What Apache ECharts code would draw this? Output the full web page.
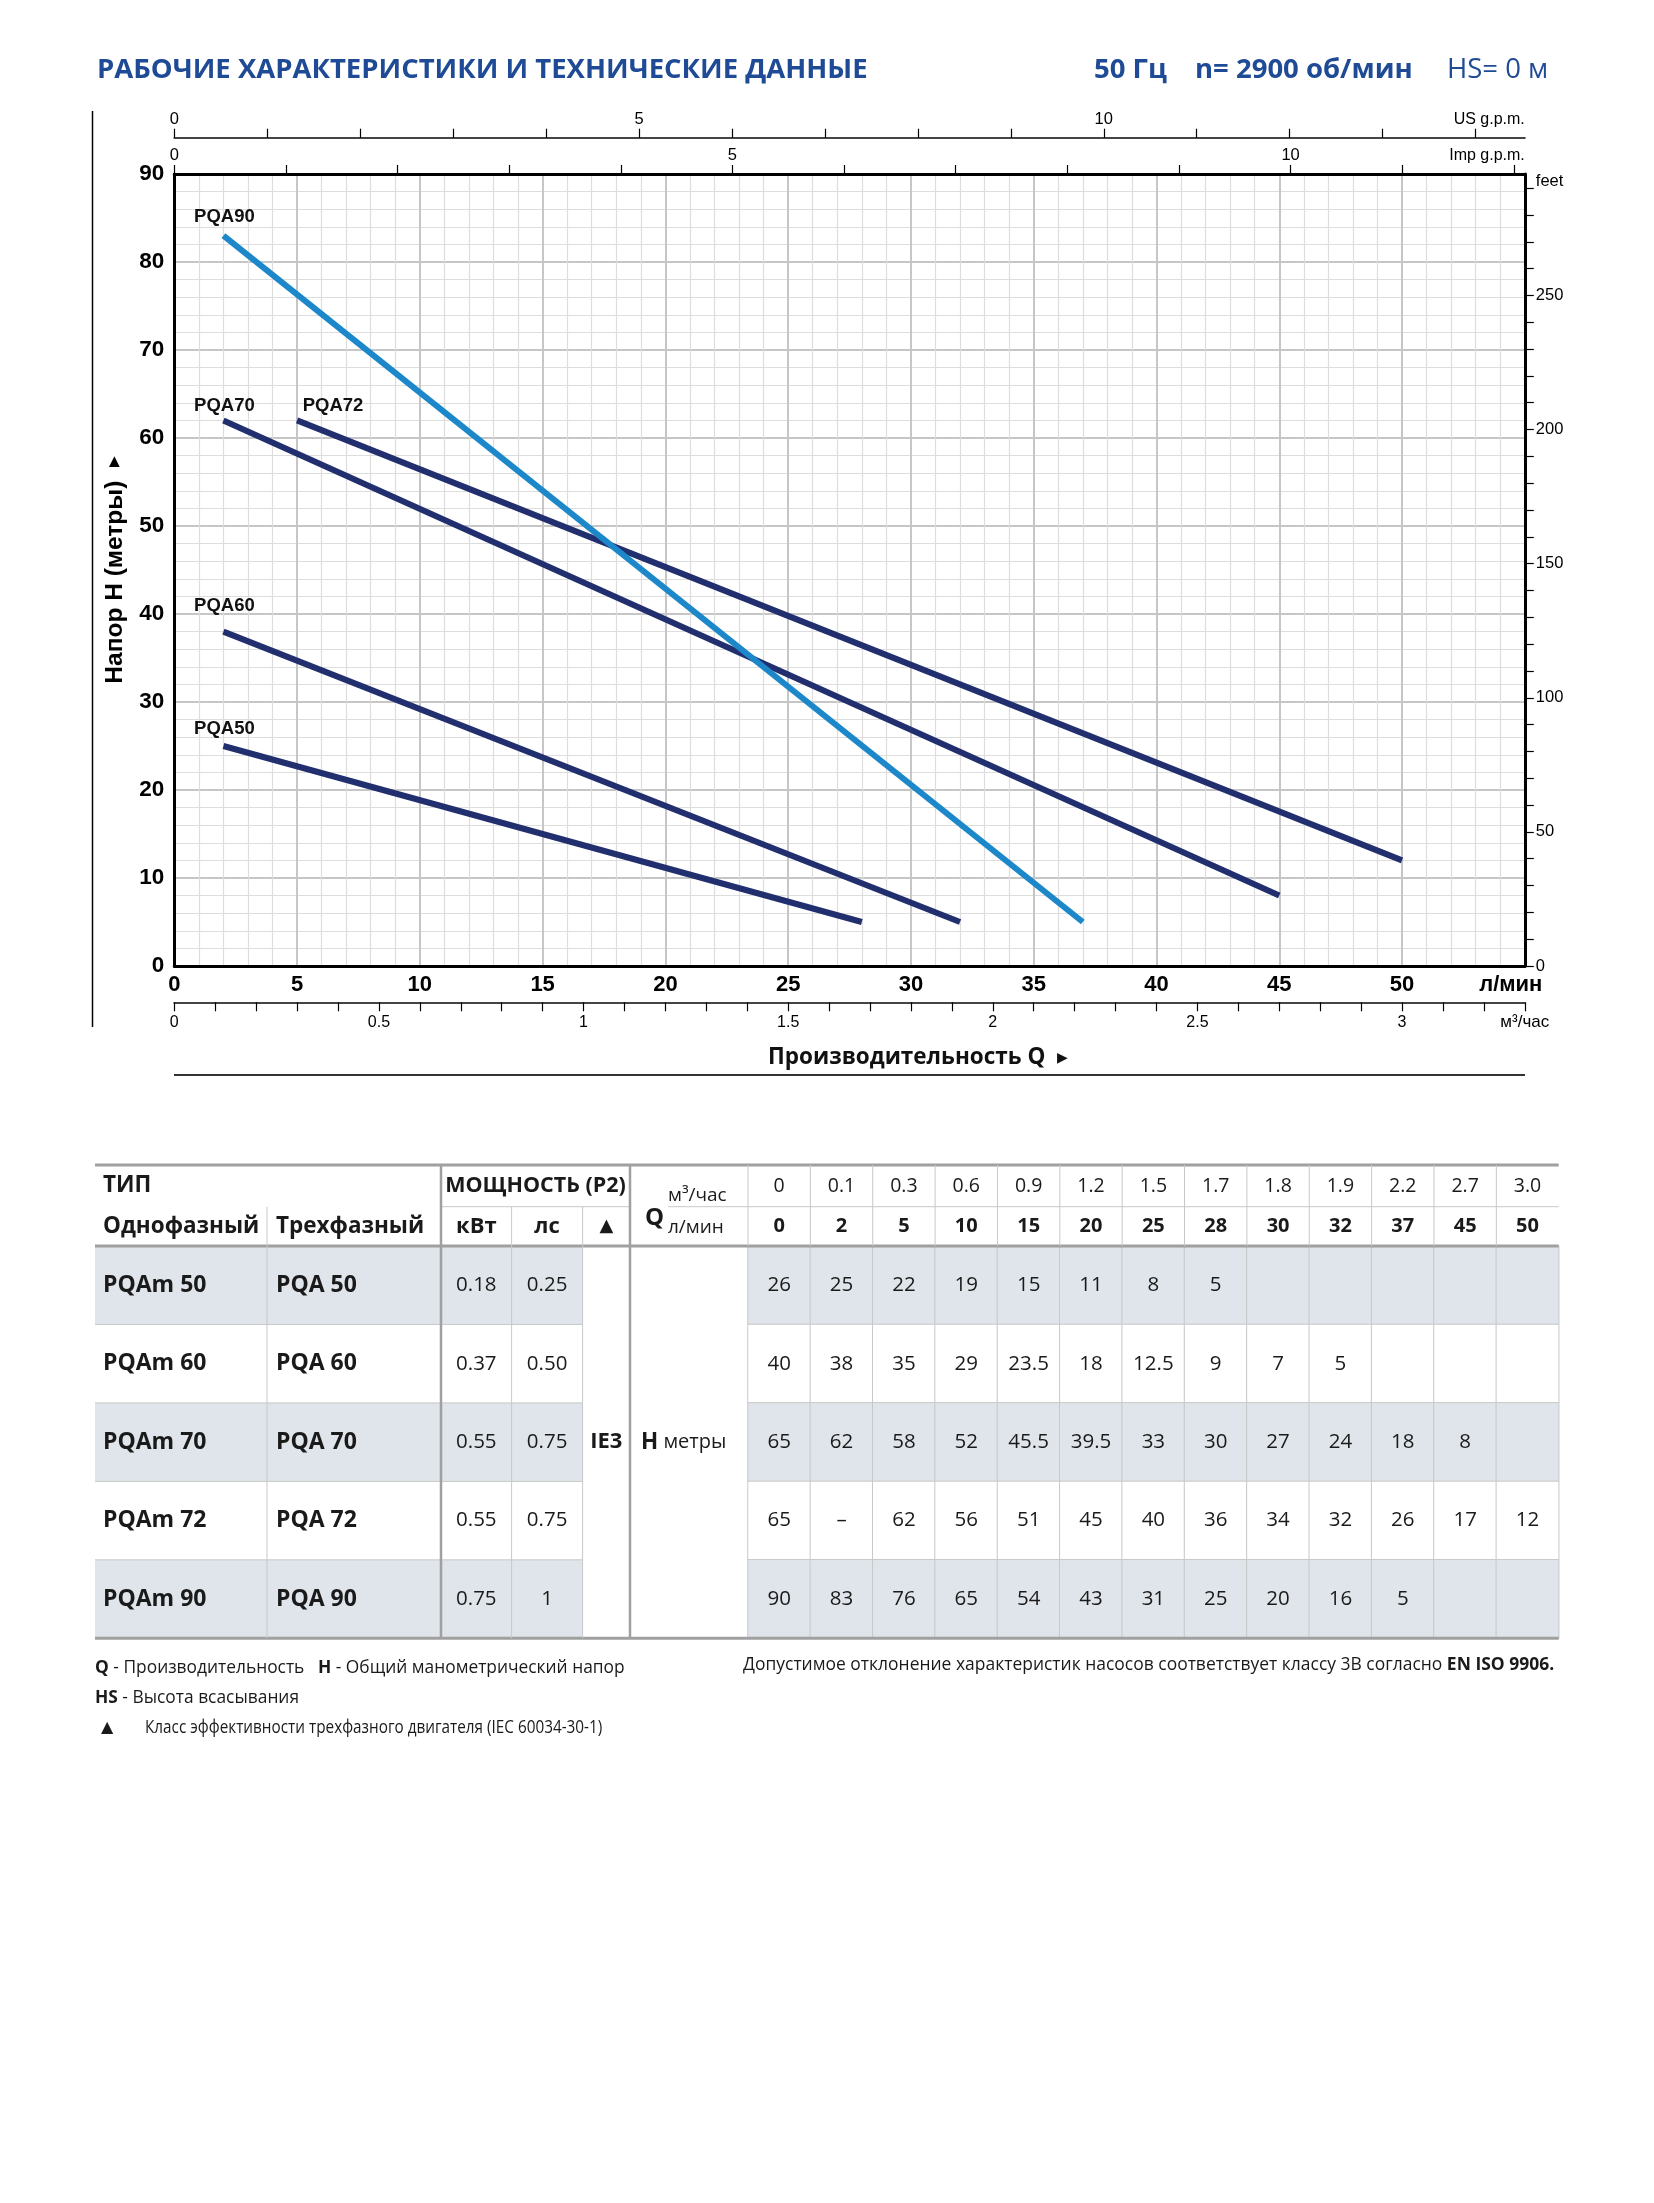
<!DOCTYPE html>
<html><head><meta charset="utf-8">
<script src="https://cdn.jsdelivr.net/npm/echarts@6.0.0/dist/echarts.min.js"></script>
<style>html,body{margin:0;padding:0;background:#fff}#c{width:1654px;height:2203px}</style>
</head><body><div id="c"></div><script>
// ---------------- DATA ----------------
const qLmin = [0, 2, 5, 10, 15, 20, 25, 28, 30, 32, 37, 45, 50];
const qM3h = ['0', '0.1', '0.3', '0.6', '0.9', '1.2', '1.5', '1.7', '1.8', '1.9', '2.2', '2.7', '3.0'];
const curveNames = ['PQA50', 'PQA60', 'PQA70', 'PQA72', 'PQA90'];
const modelsSingle = ['PQAm 50', 'PQAm 60', 'PQAm 70', 'PQAm 72', 'PQAm 90'];
const modelsThree = ['PQA 50', 'PQA 60', 'PQA 70', 'PQA 72', 'PQA 90'];
const powerKw = ['0.18', '0.37', '0.55', '0.55', '0.75'];
const powerHp = ['0.25', '0.50', '0.75', '0.75', '1'];
const hPQA50 = [26, 25, 22, 19, 15, 11, 8, 5, null, null, null, null, null];
const hPQA60 = [40, 38, 35, 29, 23.5, 18, 12.5, 9, 7, 5, null, null, null];
const hPQA70 = [65, 62, 58, 52, 45.5, 39.5, 33, 30, 27, 24, 18, 8, null];
const hPQA72 = [65, '–', 62, 56, 51, 45, 40, 36, 34, 32, 26, 17, 12];
const hPQA90 = [90, 83, 76, 65, 54, 43, 31, 25, 20, 16, 5, null, null];
const lminTickLabels = [0, 5, 10, 15, 20, 25, 30, 35, 40, 45, 50];
const headTickLabels = [0, 10, 20, 30, 40, 50, 60, 70, 80, 90];
const m3hTickLabels = [0, 0.5, 1, 1.5, 2, 2.5, 3];
const usGpmTickLabels = [0, 5, 10];
const impGpmTickLabels = [0, 5, 10];
const feetTickLabels = [0, 50, 100, 150, 200, 250];

// unit conversions / axis extents
const Q_MAX = 55, H_MAX = 90;
const L_PER_USGAL = 3.785411784, L_PER_IMPGAL = 4.54609, M_PER_FT = 0.3048;
const range = (a, b, s) => { const r = []; for (let i = a; i <= b; i++) r.push(i * s); return r; };

// ---------------- STYLE / LAYOUT ----------------
const NAVY = '#222f6e', SKY = '#1c87c9', TITLE = '#1f4a96';
const curveColor = { PQA50: NAVY, PQA60: NAVY, PQA70: NAVY, PQA72: NAVY, PQA90: SKY };
const curveLabelOffset = { PQA50: [1, -8], PQA60: [1, -16], PQA70: [1, -5], PQA72: [36, -5], PQA90: [1, -9] };
const CF = 'Liberation Sans', TF = 'Open Sans';
const GRID = { left: 174.3, top: 174, width: 1350.5, height: 792 };
const TBL = { left: 95, top: 1165, mid: 1206.7, hdr: 1246, rowH: 78.46, right: 1558.7,
  cols: [95, 267, 441, 511.6, 582.6, 630, 748] };
const SHADE = '#dfe5ea', LINEC = '#c8c8c8', THICKC = '#a0a0a0';

const tableH = [hPQA50, hPQA60, hPQA70, hPQA72, hPQA90];

// ---------------- SERIES ----------------
// chart curves are straight in the picture: drawn between the first plotted (Q >= 2) and last table point
const lineSeries = curveNames.map((name, k) => {
  const h = tableH[k];
  const pts = [];
  for (let i = 1; i < qLmin.length; i++) if (typeof h[i] === 'number') pts.push([qLmin[i], h[i]]);
  const ends = [pts[0], pts[pts.length - 1]];
  const data = ends.map((p, j) => j === 0 ? { value: p, label: { show: true } } : { value: p });
  return {
    type: 'line', name, xAxisIndex: 0, yAxisIndex: 0, data,
    symbol: 'circle', symbolSize: 0.01, showSymbol: true,
    lineStyle: { color: curveColor[name], width: 6, cap: 'butt' },
    itemStyle: { color: curveColor[name] },
    label: { show: false, position: 'top', distance: 0, offset: curveLabelOffset[name],
      formatter: name, fontFamily: CF, fontWeight: 'bold', fontSize: 18.5, color: '#111' },
    emphasis: { disabled: true }, z: name === 'PQA90' ? 4 : 3, silent: true
  };
});

const heatData = [];
tableH.forEach((h, r) => {
  h.forEach((v, c) => {
    heatData.push({ value: [c, r, 1], t: v === null ? '' : String(v),
      itemStyle: { color: r % 2 === 0 ? SHADE : '#ffffff' } });
  });
});

// ---------------- GRAPHICS (texts / table frame) ----------------
function T(x, y, text, o) {
  o = o || {};
  return { type: 'text', x, y, scaleX: o.sx || 1, rotation: o.rot || 0, silent: true, z: 20,
    style: { text, fontFamily: o.ff || TF, fontSize: o.fs || 19, fontWeight: o.fw || 'normal',
      fill: o.c || '#1a1a1a', align: o.al || 'left', verticalAlign: 'middle', rich: o.rich } };
}
function Ln(x1, y1, x2, y2, c, w) {
  return { type: 'line', silent: true, z: 15, shape: { x1, y1, x2, y2 }, style: { stroke: c, lineWidth: w } };
}
function R(x, y, w, h, c) {
  return { type: 'rect', silent: true, z: 1, shape: { x, y, width: w, height: h }, style: { fill: c } };
}

const g = [];
// header
g.push(T(97, 70, 'РАБОЧИЕ ХАРАКТЕРИСТИКИ И ТЕХНИЧЕСКИЕ ДАННЫЕ', { fs: 27.5, fw: 'bold', c: TITLE }));
g.push(T(1094, 70, '50 Гц', { fs: 27.5, fw: 'bold', c: TITLE }));
g.push(T(1195, 70, 'n= 2900 об/мин', { fs: 27.5, fw: 'bold', c: TITLE }));
g.push(T(1447, 70, 'HS= 0 м', { fs: 27.5, c: TITLE }));
// frame decorations of the chart block
g.push(Ln(92.5, 111, 92.5, 1027, '#000', 1.5));
g.push(T(768, 1058, 'Производительность Q  {t|▶}', { fs: 22.5, fw: 'bold', c: '#111',
  rich: { t: { fontSize: 14, fontFamily: 'DejaVu Sans' } } }));
g.push(Ln(174, 1075, 1525, 1075, '#333', 2));

// table
const C = TBL.cols, bottom = TBL.hdr + 5 * TBL.rowH;
for (let r = 0; r < 5; r += 2) g.push(R(C[0], TBL.hdr + r * TBL.rowH, C[4] - C[0], TBL.rowH, SHADE));
g.push(Ln(C[0], TBL.top, TBL.right, TBL.top, THICKC, 3));
g.push(Ln(C[0], TBL.hdr, TBL.right, TBL.hdr, THICKC, 3));
g.push(Ln(C[0], bottom, TBL.right, bottom, THICKC, 3));
g.push(Ln(C[2], TBL.mid, C[5], TBL.mid, LINEC, 1));
g.push(Ln(668, TBL.mid, TBL.right, TBL.mid, LINEC, 1));
for (let r = 1; r < 5; r++) g.push(Ln(C[0], TBL.hdr + r * TBL.rowH, C[4], TBL.hdr + r * TBL.rowH, LINEC, 1));
g.push(Ln(C[1], TBL.mid, C[1], bottom, LINEC, 1));
g.push(Ln(C[3], TBL.mid, C[3], bottom, LINEC, 1));
g.push(Ln(C[4], TBL.mid, C[4], bottom, LINEC, 1));
g.push(Ln(C[2], TBL.top, C[2], bottom, THICKC, 2.5));
g.push(Ln(C[5], TBL.top, C[5], bottom, THICKC, 2.5));
const dW = (TBL.right - C[6]) / qLmin.length;
for (let k = 0; k < qLmin.length; k++) g.push(Ln(C[6] + k * dW, TBL.top, C[6] + k * dW, TBL.hdr, LINEC, 1));

const yR1 = (TBL.top + TBL.mid) / 2, yR2 = (TBL.mid + TBL.hdr) / 2;
g.push(T(103, yR1, 'ТИП', { fs: 22.5, fw: 'bold' }));
g.push(T(103, yR2, 'Однофазный', { fs: 22.5, fw: 'bold' }));
g.push(T(276, yR2, 'Трехфазный', { fs: 22.5, fw: 'bold' }));
g.push(T((C[2] + C[5]) / 2, yR1, 'МОЩНОСТЬ (P2)', { fs: 21.5, fw: 'bold', al: 'center' }));
g.push(T((C[2] + C[3]) / 2, yR2, 'кВт', { fs: 22, fw: 'bold', al: 'center' }));
g.push(T((C[3] + C[4]) / 2, yR2, 'лс', { fs: 22, fw: 'bold', al: 'center' }));
g.push(T((C[4] + C[5]) / 2, yR2, '▲', { fs: 18, al: 'center', ff: 'DejaVu Sans' }));
g.push(T(645, 1218, 'Q', { fs: 24, fw: 'bold' }));
g.push(T(668, 1196, 'м³/час', { fs: 19 }));
g.push(T(668, 1228, 'л/мин', { fs: 19 }));
for (let r = 0; r < 5; r++) {
  const y = TBL.hdr + (r + 0.5) * TBL.rowH;
  g.push(T(103, y, modelsSingle[r], { fs: 23, fw: 'bold' }));
  g.push(T(276, y, modelsThree[r], { fs: 23, fw: 'bold' }));
  g.push(T((C[2] + C[3]) / 2, y, powerKw[r], { fs: 20.5, al: 'center' }));
  g.push(T((C[3] + C[4]) / 2, y, powerHp[r], { fs: 20.5, al: 'center' }));
}
const yMidBody = TBL.hdr + 2.5 * TBL.rowH;
g.push(T((C[4] + C[5]) / 2, yMidBody, 'IE3', { fs: 22, fw: 'bold', al: 'center' }));
g.push(T(641, yMidBody, '{b|H} метры', { fs: 20, rich: { b: { fontWeight: 'bold', fontSize: 22.5, fontFamily: TF } } }));

// footnotes
const rb = { b: { fontWeight: 'bold', fontFamily: TF, fontSize: 18 } };
g.push(T(95, 1668, '{b|Q} - Производительность   {b|H} - Общий манометрический напор', { fs: 18, rich: rb, sx: 0.965 }));
g.push(T(95, 1698, '{b|HS} - Высота всасывания', { fs: 18, rich: rb, sx: 0.965 }));
g.push(T(101, 1728, '▲', { fs: 16, ff: 'DejaVu Sans' }));
g.push(T(145, 1728, 'Класс эффективности трехфазного двигателя (IEC 60034-30-1)', { fs: 18, sx: 0.85 }));
g.push(T(743, 1665, 'Допустимое отклонение характеристик насосов соответствует классу 3B согласно {b|EN ISO 9906.}', { fs: 18, rich: rb, sx: 0.97 }));

// ---------------- OPTION ----------------
const baseLabel = { fontFamily: CF, color: '#000' };
const m3hMax = Q_MAX * 60 / 1000;
const option = {
  animation: false,
  backgroundColor: '#fff',
  grid: [
    Object.assign({ show: false }, GRID),
    { left: C[6], top: TBL.hdr, width: TBL.right - C[6], height: 5 * TBL.rowH }
  ],
  xAxis: [
    { gridIndex: 0, type: 'value', min: 0, max: Q_MAX, interval: 5, position: 'bottom',
      axisLine: { show: true, onZero: false, lineStyle: { color: '#000', width: 3 } },
      axisTick: { show: false },
      axisLabel: Object.assign({}, baseLabel, { fontSize: 22, fontWeight: 'bold', margin: 8,
        showMinLabel: true, showMaxLabel: true,
        formatter: v => v === Q_MAX ? '{u|л/мин}' : (lminTickLabels.indexOf(v) >= 0 ? String(v) : ''),
        rich: { u: { fontFamily: CF, fontSize: 22, fontWeight: 'bold', padding: [0, 28, 0, 0] } } }),
      splitLine: { show: true, showMinLine: false, showMaxLine: false, lineStyle: { color: '#c6c6c6', width: 2 } },
      minorTick: { show: false, splitNumber: 5 },
      minorSplitLine: { show: true, lineStyle: { color: '#dddddd', width: 1.2 } } },
    { gridIndex: 0, type: 'value', min: 0, max: Q_MAX / L_PER_IMPGAL, position: 'top',
      axisLine: { show: true, onZero: false, lineStyle: { color: '#000', width: 3 } },
      axisTick: { show: true, inside: false, length: 9, customValues: range(0, 12, 1), lineStyle: { color: '#000', width: 1.2 } },
      axisLabel: Object.assign({}, baseLabel, { fontSize: 16.5, margin: 10, customValues: impGpmTickLabels }),
      splitLine: { show: false },
      name: 'Imp g.p.m.', nameLocation: 'end', nameGap: 0,
      nameTextStyle: { fontFamily: CF, fontSize: 16, color: '#000', align: 'right', verticalAlign: 'bottom', padding: [0, 0, 10, 0] } },
    { gridIndex: 0, type: 'value', min: 0, max: Q_MAX / L_PER_USGAL, position: 'top', offset: 36.3,
      axisLine: { show: true, onZero: false, lineStyle: { color: '#444', width: 2 } },
      axisTick: { show: true, inside: false, length: 9, customValues: range(0, 14, 1), lineStyle: { color: '#000', width: 1.2 } },
      axisLabel: Object.assign({}, baseLabel, { fontSize: 16.5, margin: 10, customValues: usGpmTickLabels }),
      splitLine: { show: false },
      name: 'US g.p.m.', nameLocation: 'end', nameGap: 0,
      nameTextStyle: { fontFamily: CF, fontSize: 16, color: '#000', align: 'right', verticalAlign: 'bottom', padding: [0, 0, 10, 0] } },
    { gridIndex: 0, type: 'value', min: 0, max: m3hMax, position: 'bottom', offset: 36.3,
      axisLine: { show: true, onZero: false, lineStyle: { color: '#444', width: 2 } },
      axisTick: { show: true, inside: false, length: 9, customValues: range(0, 33, 1).map(v => v / 10), lineStyle: { color: '#000', width: 1.2 } },
      axisLabel: Object.assign({}, baseLabel, { fontSize: 16, margin: 12,
        customValues: m3hTickLabels.concat([m3hMax]),
        formatter: v => Math.abs(v - m3hMax) < 1e-9 ? '{u|м³/час}' : String(v),
        rich: { u: { fontFamily: CF, fontSize: 17, color: '#000', padding: [0, 0, 0, 0] } } }),
      splitLine: { show: false } },
    { gridIndex: 1, type: 'category', data: qLmin.map(String), position: 'top',
      axisLine: { show: false }, axisTick: { show: false }, splitLine: { show: false },
      axisLabel: { interval: 0, margin: 0,
        formatter: (v, i) => '{a|' + qM3h[i] + '}\n{b|' + qLmin[i] + '}',
        rich: { a: { fontFamily: TF, fontSize: 19.5, color: '#1a1a1a', lineHeight: 40 },
                b: { fontFamily: TF, fontSize: 20, fontWeight: 'bold', color: '#1a1a1a', lineHeight: 40 } } } }
  ],
  yAxis: [
    { gridIndex: 0, type: 'value', min: 0, max: H_MAX, interval: 10, position: 'left',
      axisLine: { show: true, onZero: false, lineStyle: { color: '#000', width: 3 } },
      axisTick: { show: false },
      axisLabel: Object.assign({}, baseLabel, { fontSize: 22.5, fontWeight: 'bold', margin: 10,
        formatter: v => headTickLabels.indexOf(v) >= 0 ? String(v) : '' }),
      splitLine: { show: true, showMinLine: false, showMaxLine: false, lineStyle: { color: '#c6c6c6', width: 2 } },
      minorTick: { show: false, splitNumber: 5 },
      minorSplitLine: { show: true, lineStyle: { color: '#dddddd', width: 1.2 } },
      name: 'Напор H (метры)  {t|▶}', nameLocation: 'middle', nameRotate: 90, nameGap: 47,
      nameTextStyle: { fontFamily: CF, fontWeight: 'bold', fontSize: 24.5, color: '#000',
        rich: { t: { fontSize: 14, fontFamily: 'DejaVu Sans', color: '#000' } } } },
    { gridIndex: 0, type: 'value', min: 0, max: H_MAX / M_PER_FT, position: 'right',
      axisLine: { show: true, onZero: false, lineStyle: { color: '#000', width: 3 } },
      axisTick: { show: true, inside: false, length: 9, customValues: range(0, 29, 10), lineStyle: { color: '#000', width: 1.2 } },
      axisLabel: Object.assign({}, baseLabel, { fontSize: 16.5, margin: 11,
        customValues: feetTickLabels.concat([290]),
        formatter: v => v === 290 ? '{f|feet}' : String(v),
        rich: { f: { fontFamily: CF, fontSize: 16.5, color: '#000', padding: [0, 0, 14, 0] } } }),
      splitLine: { show: false } },
    { gridIndex: 1, type: 'category', data: curveNames, inverse: true, show: false }
  ],
  series: lineSeries.concat([{
    type: 'heatmap', xAxisIndex: 4, yAxisIndex: 2, data: heatData, silent: true,
    itemStyle: { borderColor: LINEC, borderWidth: 1 },
    label: { show: true, formatter: p => p.data.t, fontFamily: TF, fontSize: 20.5, color: '#1a1a1a' },
    emphasis: { disabled: true }
  }]),
  graphic: { elements: g }
};
const chart = echarts.init(document.getElementById('c'), null, { renderer: 'canvas', width: 1654, height: 2203 });
chart.setOption(option);
</script></body></html>
